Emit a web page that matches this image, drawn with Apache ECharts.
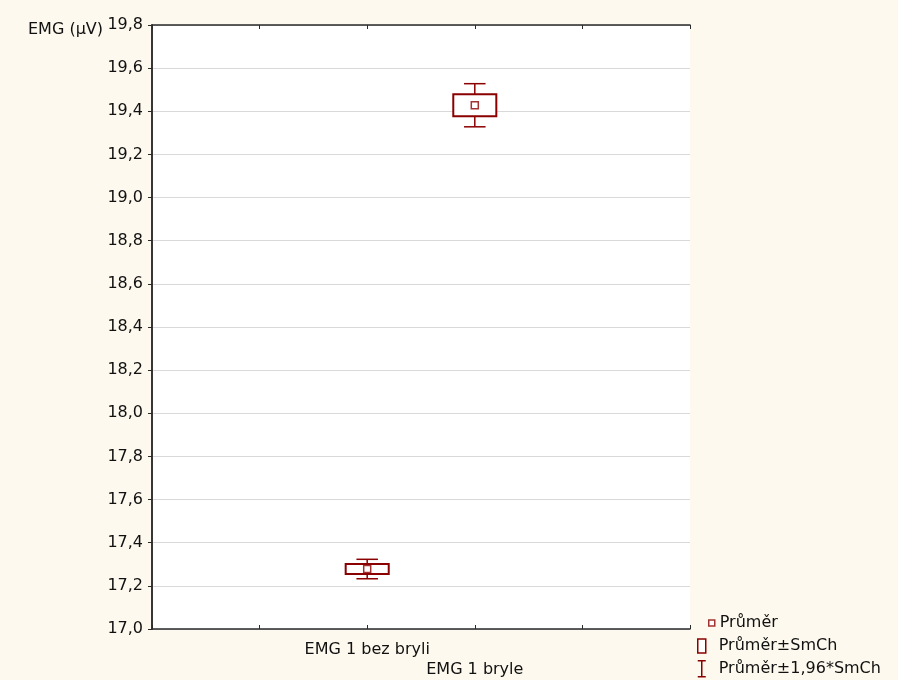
<!DOCTYPE html>
<html><head><meta charset="utf-8">
<script src="https://cdn.jsdelivr.net/npm/echarts@6/dist/echarts.min.js"></script>
<style>html,body{margin:0;padding:0;background:#fdf9ee}#c{width:898px;height:680px}</style>
</head><body><div id="c"></div>
<script>
// ---- data ----
const categories = ['EMG 1 bez bryli', 'EMG 1 bryle'];
const means = [17.278, 19.428];
const stdErrors = [0.023, 0.051];
const yMin = 17.0, yMax = 19.8, yStep = 0.2;
const yAxisName = 'EMG (µV)';
const seriesNames = ['Průměr', 'Průměr±SmCh', 'Průměr±1,96*SmCh'];
const ciFactor = 1.96;
// ---- layout ----
const CAT_OFFSET = 2; // category i sits at position i+2 of a 0..5 axis
const RED = '#8b0000';
const FONT = 'DejaVu Sans';
const FS = 16;

const xs = categories.map((c, i) => i + CAT_OFFSET);
const meanData = means.map((m, i) => [xs[i], m]);
const boxData = means.map((m, i) => [xs[i], m - stdErrors[i], m + stdErrors[i]]);
const whiskerData = means.map((m, i) => [xs[i], m - ciFactor * stdErrors[i], m + ciFactor * stdErrors[i]]);

function renderWhisker(params, api) {
  const x = api.value(0);
  const pLo = api.coord([x, api.value(1)]);
  const pHi = api.coord([x, api.value(2)]);
  const half = api.size([1, 0])[0] * 0.1;
  const st = { stroke: RED, lineWidth: 1.5, fill: null };
  return { type: 'group', children: [
    { type: 'line', shape: { x1: pLo[0], y1: pLo[1], x2: pHi[0], y2: pHi[1] }, style: st },
    { type: 'line', shape: { x1: pLo[0] - half, y1: pLo[1], x2: pLo[0] + half, y2: pLo[1] }, style: st },
    { type: 'line', shape: { x1: pHi[0] - half, y1: pHi[1], x2: pHi[0] + half, y2: pHi[1] }, style: st }
  ]};
}
function renderBox(params, api) {
  const x = api.value(0);
  const pLo = api.coord([x, api.value(1)]);
  const pHi = api.coord([x, api.value(2)]);
  const w = api.size([1, 0])[0] * 0.4;
  return { type: 'rect', shape: { x: pHi[0] - w / 2, y: pHi[1], width: w, height: pLo[1] - pHi[1] },
    style: { fill: '#fff', stroke: RED, lineWidth: 2 } };
}

const chart = echarts.init(document.getElementById('c'));
const legendBase = { orient: 'vertical', padding: 0, selectedMode: false,
  itemStyle: { color: '#fff', borderColor: RED, borderWidth: 1.5 } };
chart.setOption({
  animation: false,
  backgroundColor: '#fdf9ee',
  textStyle: { fontFamily: FONT },
  grid: { left: 152, right: 208, top: 25, bottom: 51, show: true, backgroundColor: '#fff', borderWidth: 0 },
  legend: [
    Object.assign({}, legendBase, { data: [{ name: seriesNames[0], icon: 'rect' }], left: 708, top: 615,
      itemWidth: 6, itemHeight: 6, textStyle: { fontFamily: FONT, fontSize: FS, color: '#111' } }),
    Object.assign({}, legendBase, { data: [{ name: seriesNames[1], icon: 'rect' }], left: 697, top: 638,
      itemWidth: 8, itemHeight: 14, textStyle: { fontFamily: FONT, fontSize: FS, color: '#111', padding: [0, 0, 0, 8] } }),
    Object.assign({}, legendBase, { data: [{ name: seriesNames[2], icon: 'path://M0,0H8M4,0V16M0,16H8' }], left: 697, top: 660,
      itemWidth: 8, itemHeight: 16, textStyle: { fontFamily: FONT, fontSize: FS, color: '#111', padding: [0, 0, 0, 8] } })
  ],
  xAxis: [
    { type: 'value', position: 'bottom', min: 0, max: 5, interval: 1,
      axisLine: { show: true, lineStyle: { color: '#2a2a2a', width: 1.5 } },
      axisTick: { show: true, inside: true, length: 4, lineStyle: { color: '#2a2a2a' } },
      splitLine: { show: false },
      axisLabel: { margin: 11, color: '#111', fontFamily: FONT, fontSize: FS, lineHeight: 20,
        formatter: v => { const i = v - CAT_OFFSET; if (i < 0 || i >= categories.length) return ''; return (i % 2 ? '\n' : '') + categories[i]; } } },
    { type: 'value', position: 'top', min: 0, max: 5, interval: 1,
      axisLine: { show: true, lineStyle: { color: '#2a2a2a', width: 1.5 } },
      axisTick: { show: true, inside: true, length: 4, lineStyle: { color: '#2a2a2a' } },
      splitLine: { show: false }, axisLabel: { show: false } }
  ],
  yAxis: [
    { type: 'value', position: 'left', min: yMin, max: yMax, interval: yStep,
      name: yAxisName, nameLocation: 'end', nameGap: -5, nameMoveOverlap: false,
      nameTextStyle: { align: 'right', verticalAlign: 'middle', padding: [0, 49, 0, 0], color: '#111', fontFamily: FONT, fontSize: FS },
      axisLine: { show: true, lineStyle: { color: '#2a2a2a', width: 1.5 } },
      axisTick: { show: true, inside: false, length: 4, lineStyle: { color: '#2a2a2a' } },
      splitLine: { show: true, lineStyle: { color: '#d9d9d9', width: 1 } },
      axisLabel: { margin: 9, color: '#111', fontFamily: FONT, fontSize: FS, formatter: v => v.toFixed(1).replace('.', ',') } },
    { type: 'value', position: 'right', min: yMin, max: yMax, interval: yStep,
      axisLine: { show: true, lineStyle: { color: '#2a2a2a', width: 1.5 } },
      axisTick: { show: true, inside: true, length: 3, lineStyle: { color: '#2a2a2a' } },
      splitLine: { show: false }, axisLabel: { show: false } }
  ],
  series: [
    { name: seriesNames[2], type: 'custom', renderItem: renderWhisker, data: whiskerData,
      encode: { x: 0, y: [1, 2] }, itemStyle: { color: RED }, z: 2 },
    { name: seriesNames[1], type: 'custom', renderItem: renderBox, data: boxData,
      encode: { x: 0, y: [1, 2] }, itemStyle: { color: RED }, z: 3 },
    { name: seriesNames[0], type: 'scatter', data: meanData, symbol: 'rect', symbolSize: 7,
      itemStyle: { color: '#fff', borderColor: RED, borderWidth: 1.5 }, z: 4 }
  ]
});
</script></body></html>
